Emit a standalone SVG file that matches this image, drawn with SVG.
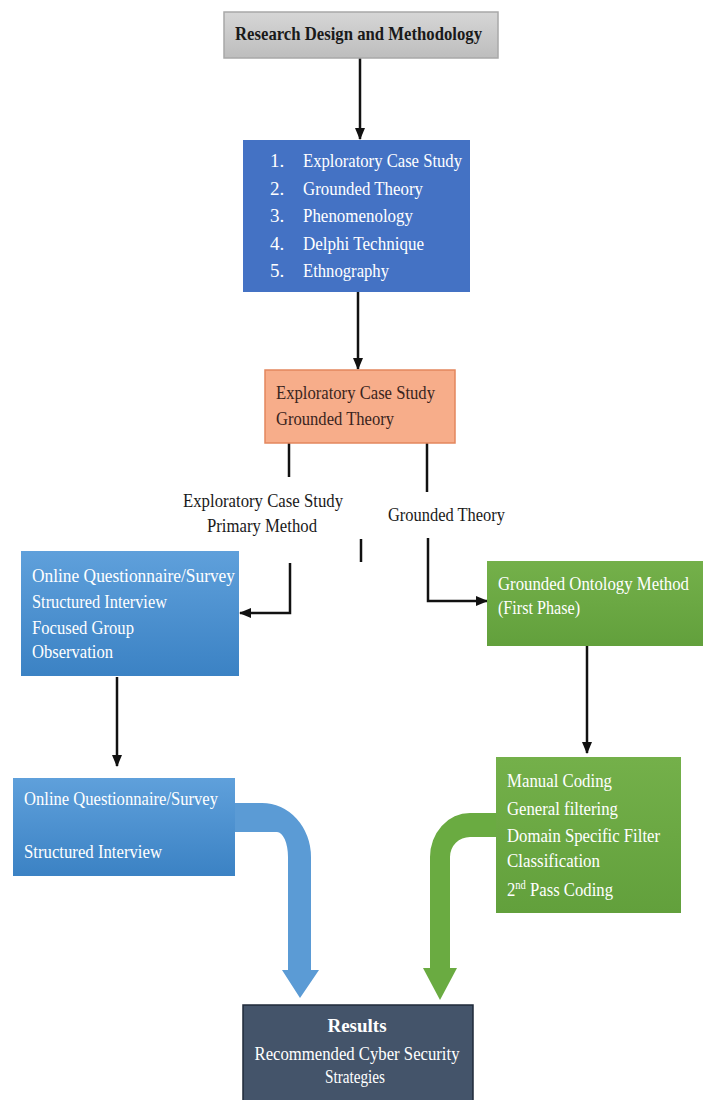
<svg xmlns="http://www.w3.org/2000/svg" width="708" height="1100" viewBox="0 0 708 1100">
<style>
text{font-family:"Liberation Serif","Times New Roman",serif;font-size:19px}
.w{fill:#ffffff}
.k{fill:#1a1a1a}
.o{fill:#3a2420}
.ln{stroke:#111;stroke-width:2.5;fill:none}
</style>
<defs>
<marker id="ar" viewBox="0 0 12 10" refX="11" refY="5" markerWidth="12" markerHeight="10" markerUnits="userSpaceOnUse" orient="auto">
<path d="M0,0 L12,5 L0,10 Z" fill="#111"/>
</marker>
<linearGradient id="lb" x1="0" y1="0" x2="0" y2="1">
<stop offset="0" stop-color="#5fa0db"/><stop offset="1" stop-color="#3b82c4"/>
</linearGradient>
<linearGradient id="gr" x1="0" y1="0" x2="0" y2="1">
<stop offset="0" stop-color="#74b04a"/><stop offset="1" stop-color="#62a03c"/>
</linearGradient>
<linearGradient id="gy" x1="0" y1="0" x2="0" y2="1">
<stop offset="0" stop-color="#d6d6d6"/><stop offset="1" stop-color="#bdbdbd"/>
</linearGradient>
</defs>
<rect width="708" height="1100" fill="#ffffff"/>

<g id="connectors">
<line class="ln" x1="360" y1="58" x2="360" y2="139" marker-end="url(#ar)"/>
<line class="ln" x1="358" y1="292" x2="358" y2="369" marker-end="url(#ar)"/>
<line class="ln" x1="289" y1="443" x2="289" y2="477"/>
<line class="ln" x1="427" y1="443" x2="427" y2="492"/>
<line class="ln" x1="361" y1="539" x2="361" y2="562" stroke-width="1.5"/>
<polyline class="ln" points="290,563 290,613 240,613" marker-end="url(#ar)"/>
<polyline class="ln" points="428,538 428,601 487,601" marker-end="url(#ar)"/>
<line class="ln" x1="117" y1="677" x2="117" y2="766" marker-end="url(#ar)"/>
<line class="ln" x1="587" y1="646" x2="587" y2="753" marker-end="url(#ar)"/>
<path d="M235,803 L262,803 A49,54 0 0 1 311,857 L311,970 L319,970 L300,998 L282,970 L288,970 L288,857 A11,25 0 0 0 277,832 L235,832 Z" fill="#5b9bd5"/>
<path d="M496,813 L470,813 A40,44 0 0 0 430,857 L430,968 L423,968 L440,1000 L457,968 L450,968 L450,857 A20,20 0 0 1 470,837 L496,837 Z" fill="#6aab41"/>
<g id="labels">
<text class="k" x="263" y="507" text-anchor="middle" textLength="160" lengthAdjust="spacingAndGlyphs">Exploratory Case Study</text>
<text class="k" x="262" y="532" text-anchor="middle" textLength="110" lengthAdjust="spacingAndGlyphs">Primary Method</text>
<text class="k" x="388" y="521" textLength="117" lengthAdjust="spacingAndGlyphs">Grounded Theory</text>
</g>
</g>

<g id="n-research">
<rect x="224" y="12" width="274" height="46" fill="url(#gy)" stroke="#a8a8a8" stroke-width="1.5"/>
<text class="k" x="235" y="40" font-weight="bold" textLength="247" lengthAdjust="spacingAndGlyphs">Research Design and Methodology</text>
</g>

<g id="n-methods">
<rect x="243" y="140" width="227" height="152" fill="#4472c4"/>
<text class="w" x="270" y="167">1.</text><text class="w" x="303" y="167" textLength="159" lengthAdjust="spacingAndGlyphs">Exploratory Case Study</text>
<text class="w" x="270" y="195">2.</text><text class="w" x="303" y="195" textLength="120" lengthAdjust="spacingAndGlyphs">Grounded Theory</text>
<text class="w" x="270" y="222">3.</text><text class="w" x="303" y="222" textLength="110" lengthAdjust="spacingAndGlyphs">Phenomenology</text>
<text class="w" x="270" y="250">4.</text><text class="w" x="303" y="250" textLength="121" lengthAdjust="spacingAndGlyphs">Delphi Technique</text>
<text class="w" x="270" y="277">5.</text><text class="w" x="303" y="277" textLength="86" lengthAdjust="spacingAndGlyphs">Ethnography</text>
</g>

<g id="n-selected">
<rect x="265" y="370" width="190" height="73" fill="#f7ad8a" stroke="#e3875d" stroke-width="1.5"/>
<text class="o" x="276" y="399" textLength="159" lengthAdjust="spacingAndGlyphs">Exploratory Case Study</text>
<text class="o" x="276" y="425" textLength="118" lengthAdjust="spacingAndGlyphs">Grounded Theory</text>
</g>

<g id="n-collection">
<rect x="21" y="551" width="218" height="125" fill="url(#lb)"/>
<text class="w" x="32" y="582" textLength="203" lengthAdjust="spacingAndGlyphs">Online Questionnaire/Survey</text>
<text class="w" x="32" y="608" textLength="135" lengthAdjust="spacingAndGlyphs">Structured Interview</text>
<text class="w" x="32" y="634" textLength="102" lengthAdjust="spacingAndGlyphs">Focused Group</text>
<text class="w" x="32" y="658" textLength="81" lengthAdjust="spacingAndGlyphs">Observation</text>
</g>

<g id="n-ontology">
<rect x="487" y="561" width="216" height="85" fill="url(#gr)"/>
<text class="w" x="498" y="590" font-size="15.5" textLength="191" lengthAdjust="spacingAndGlyphs">Grounded Ontology Method</text>
<text class="w" x="498" y="614" textLength="82" lengthAdjust="spacingAndGlyphs">(First Phase)</text>
</g>

<g id="n-chosen">
<rect x="13" y="778" width="222" height="98" fill="url(#lb)"/>
<text class="w" x="24" y="805" textLength="194" lengthAdjust="spacingAndGlyphs">Online Questionnaire/Survey</text>
<text class="w" x="24" y="858" textLength="138" lengthAdjust="spacingAndGlyphs">Structured Interview</text>
</g>

<g id="n-coding">
<rect x="496" y="757" width="185" height="156" fill="url(#gr)"/>
<text class="w" x="507" y="787" textLength="105" lengthAdjust="spacingAndGlyphs">Manual Coding</text>
<text class="w" x="507" y="815" textLength="111" lengthAdjust="spacingAndGlyphs">General filtering</text>
<text class="w" x="507" y="842" textLength="153" lengthAdjust="spacingAndGlyphs">Domain Specific Filter</text>
<text class="w" x="507" y="867" textLength="93" lengthAdjust="spacingAndGlyphs">Classification</text>
<text class="w" x="507" y="896" textLength="106" lengthAdjust="spacingAndGlyphs">2<tspan font-size="12" dy="-7">nd</tspan><tspan dy="7"> Pass Coding</tspan></text>
</g>

<g id="n-results">
<rect x="243" y="1005" width="230" height="100" fill="#44546a" stroke="#1f2a3a" stroke-width="1.5"/>
<text class="w" x="357" y="1032" text-anchor="middle" font-weight="bold">Results</text>
<text class="w" x="357" y="1060" text-anchor="middle" textLength="205" lengthAdjust="spacingAndGlyphs">Recommended Cyber Security</text>
<text class="w" x="355" y="1083" text-anchor="middle" textLength="60" lengthAdjust="spacingAndGlyphs">Strategies</text>
</g>
</svg>
